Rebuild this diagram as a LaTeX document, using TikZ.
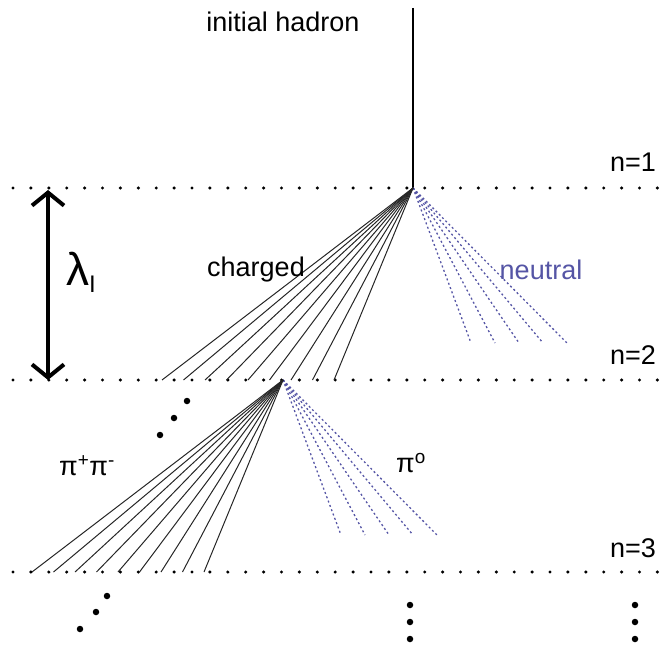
\documentclass[tikz,border=0pt]{standalone}
\usepackage{fontspec}
\setmainfont{Liberation Sans}
\usetikzlibrary{arrows.meta}
\definecolor{neutralblue}{RGB}{85,85,165}
\begin{document}
\begin{tikzpicture}[x=1pt,y=-1pt,
  lbl/.style={font=\fontsize{27}{32}\selectfont, inner sep=0pt},
  chargedline/.style={line width=1pt, black!85},
  neutralline/.style={line width=1.3pt, neutralblue, dash pattern=on 2pt off 2.6pt},
  rowdot/.style={circle, fill=black, inner sep=0pt, minimum size=3.4pt},
  bigdot/.style={circle, fill=black, inner sep=0pt, minimum size=6.5pt},
  lengtharrow/.style={line width=4pt, {Straight Barb[length=13pt,width=32pt]}-{Straight Barb[length=13pt,width=32pt]}}]
\useasboundingbox (0,0) rectangle (660,644);

% dotted generation lines
\foreach \yy/\n in {188/1,380/2,572/3} {
  \foreach \i in {0,...,36} {
    \node[rowdot] (d\n-\i) at ({13+17.9*\i},\yy) {};
  }
}

% initial hadron track
\coordinate (top) at (413,8);
\coordinate (v1) at (413,188);
\draw[line width=2pt] (top) -- (v1);

% two showers
\foreach \dx/\dy/\n in {0/0/1,-130/192/2} {
  \coordinate (v\n) at ({413+\dx},{188+\dy});
  \foreach \k in {0,...,4} {
    \coordinate (p\n-\k) at ({471+24*\k+\dx},{343+\dy});
    \draw[neutralline] (v\n) -- (p\n-\k);
  }
  \foreach \k in {0,...,8} {
    \coordinate (c\n-\k) at ({162+21.5*\k+\dx},{380+\dy});
    \draw[chargedline] (v\n) -- (c\n-\k);
  }
}

% interaction length arrow
\coordinate (at) at (48,190);
\coordinate (ab) at (48,380);
\draw[lengtharrow] (at) -- (ab);
\node[inner sep=0pt, font=\fontsize{46}{50}\selectfont] (lam) at (81,272) {λ\raisebox{-7pt}{\fontsize{24}{26}\selectfont I}};

% labels
\node[lbl] (init) at (283,22) {initial hadron};
\node[lbl, anchor=east] (n1) at (656,162) {n=1};
\node[lbl, anchor=east] (n2) at (656,355) {n=2};
\node[lbl, anchor=east] (n3) at (656,548) {n=3};
\node[lbl] (chg) at (256,270) {charged};
\node[lbl, text=neutralblue] (neu) at (541,270) {neutral};
\node[lbl] (pipm) at (87,466) {π\textsuperscript{+}π\textsuperscript{-}};
\node[lbl] (pi0) at (411,463) {π\textsuperscript{o}};

% continuation dots
\foreach \x/\y/\m in {187/401/a,174/418/b,160/435/c,107/596/d,96/612/e,80/629/f,410/605/g,410/622/h,410/639/i,635/605/j,635/622/k,635/639/l} {
  \node[bigdot] (cd\m) at (\x,\y) {};
}
\end{tikzpicture}
\end{document}
